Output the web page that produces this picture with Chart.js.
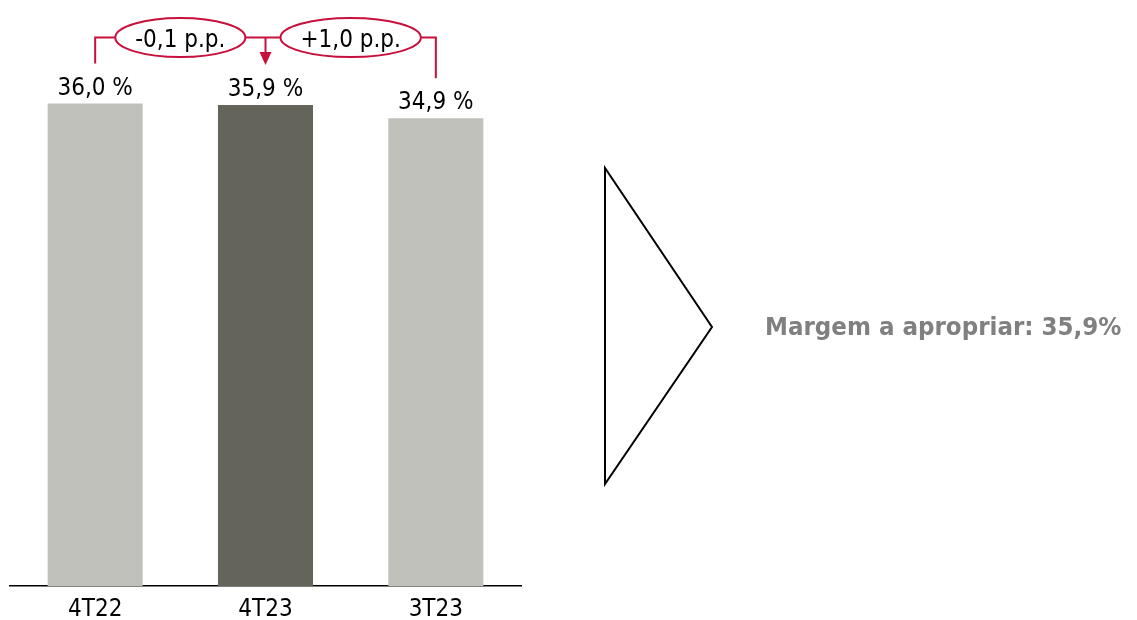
<!DOCTYPE html>
<html>
<head>
<meta charset="utf-8">
<script src="https://cdn.jsdelivr.net/npm/chart.js@4"></script>
<style>
  html, body { margin: 0; padding: 0; background: #fff; }
  #wrap { width: 1137px; height: 620px; }
</style>
</head>
<body>
<div id="wrap"><canvas id="margem" width="1137" height="620"></canvas></div>
<script>
// data
const categories = ['4T22', '4T23', '3T23'];
const margins = [36.0, 35.9, 34.9];
const barColors = ['#c1c1bc', '#64645b', '#c1c1bc'];
// comparisons shown in the callouts: [from index, to index]
const comparisons = [[0, 1], [2, 1]];
const sideText = 'Margem a apropriar: 35,9%';

const FONT = "'DejaVu Sans Condensed', 'DejaVu Sans', sans-serif";
const RED = '#c8103c';

function fmt(v) {
  return v.toFixed(1).replace('.', ',');
}

const annotations = {
  id: 'annotations',
  afterDraw(chart) {
    const ctx = chart.ctx;
    const bars = chart.getDatasetMeta(0).data;
    ctx.save();

    // value labels over the bars
    ctx.fillStyle = '#000';
    ctx.font = '24px ' + FONT;
    ctx.textAlign = 'center';
    ctx.textBaseline = 'alphabetic';
    bars.forEach((b, i) => {
      ctx.fillText(fmt(margins[i]) + ' %', b.x, b.y - 9);
    });

    // bracket with the p.p. differences
    const top = Math.min(...bars.map(b => b.y)) - 66;
    ctx.strokeStyle = RED;
    ctx.fillStyle = RED;
    ctx.lineWidth = 2;

    const ells = comparisons.map(([a, c]) => {
      const cx = (bars[a].x + bars[c].x) / 2;
      const d = margins[c] - margins[a];
      const txt = (d > 0 ? '+' : '') + fmt(d) + ' p.p.';
      ctx.font = '24px ' + FONT;
      const rx = ctx.measureText(txt).width / 2 + 20;
      return { cx, rx, txt };
    });

    // left and right legs
    const l = bars[0], r = bars[bars.length - 1];
    ctx.beginPath();
    ctx.moveTo(l.x, l.y - 40);
    ctx.lineTo(l.x, top);
    ctx.lineTo(ells[0].cx - ells[0].rx, top);
    ctx.moveTo(ells[0].cx + ells[0].rx, top);
    ctx.lineTo(ells[1].cx - ells[1].rx, top);
    ctx.moveTo(ells[1].cx + ells[1].rx, top);
    ctx.lineTo(r.x, top);
    ctx.lineTo(r.x, r.y - 40);
    ctx.stroke();

    // arrow to the middle bar
    const m = bars[1];
    const tip = m.y - 40;
    ctx.beginPath();
    ctx.moveTo(m.x, top);
    ctx.lineTo(m.x, tip - 10);
    ctx.stroke();
    ctx.beginPath();
    ctx.moveTo(m.x - 6, tip - 13);
    ctx.lineTo(m.x + 6, tip - 13);
    ctx.lineTo(m.x, tip);
    ctx.closePath();
    ctx.fill();

    // ellipses with text
    ells.forEach(e => {
      ctx.beginPath();
      ctx.ellipse(e.cx, top, e.rx, 19.5, 0, 0, Math.PI * 2);
      ctx.fillStyle = '#fff';
      ctx.fill();
      ctx.stroke();
      ctx.fillStyle = '#000';
      ctx.textAlign = 'center';
      ctx.fillText(e.txt, e.cx, top + 9);
    });

    // big open triangle and side note
    ctx.strokeStyle = '#000';
    ctx.lineWidth = 2;
    ctx.beginPath();
    ctx.moveTo(605, 168);
    ctx.lineTo(605, 484);
    ctx.lineTo(712, 327);
    ctx.closePath();
    ctx.stroke();

    ctx.fillStyle = '#808080';
    ctx.font = 'bold 25.6px ' + FONT;
    ctx.textAlign = 'left';
    ctx.fillText(sideText, 765, 335);

    ctx.restore();
  }
};

new Chart(document.getElementById('margem'), {
  type: 'bar',
  data: {
    labels: categories,
    datasets: [{
      data: margins,
      backgroundColor: barColors,
      borderWidth: 0,
      categoryPercentage: 1,
      barPercentage: 0.558
    }]
  },
  options: {
    responsive: false,
    animation: false,
    layout: { padding: { left: 10, right: 616, top: 50, bottom: -13 } },
    plugins: {
      legend: { display: false },
      tooltip: { enabled: false }
    },
    scales: {
      x: {
        grid: { display: false, drawTicks: false },
        border: { display: true, color: '#000', width: 1.5 },
        ticks: { color: '#000', padding: 9, font: { size: 24, family: FONT } }
      },
      y: { display: false, min: 0, max: 40 }
    }
  },
  plugins: [annotations]
});
</script>
</body>
</html>
